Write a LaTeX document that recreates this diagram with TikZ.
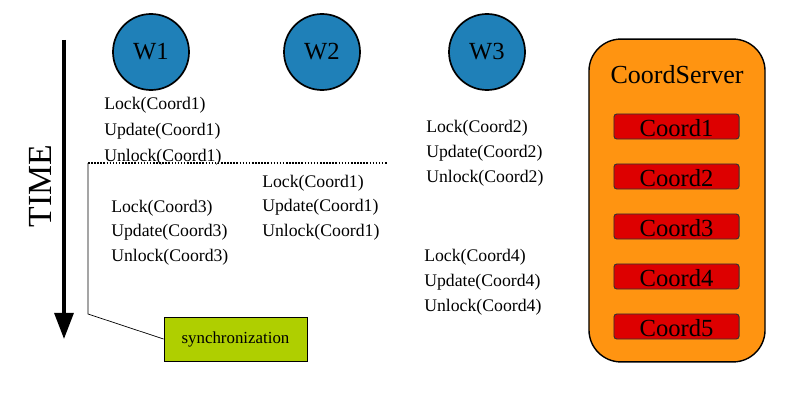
\documentclass[tikz,border=0pt]{standalone}
\usepackage{fontspec}
\setmainfont{Liberation Serif}
\usetikzlibrary{arrows.meta}
\definecolor{wblue}{HTML}{1F80B8}
\definecolor{corange}{HTML}{FF9411}
\definecolor{cred}{HTML}{DD0000}
\definecolor{sgreen}{HTML}{AFCF00}
\tikzset{
  worker/.style={circle, draw=black, line width=1.2pt, fill=wblue, minimum size=1.9cm, inner sep=0pt, font=\fontsize{17.5}{20}\selectfont},
  op/.style={anchor=base west, inner sep=0pt, font=\fontsize{12.6}{15}\selectfont},
  coordbox/.style={draw=black!80, line width=0.7pt, fill=cred, rounded corners=2pt, minimum width=3.125cm, minimum height=0.625cm, inner sep=0pt},
  coordlabel/.style={inner sep=0pt, font=\fontsize{17.5}{20}\selectfont},
  server/.style={draw=black, line width=1pt, fill=corange, rounded corners=0.8cm, minimum width=4.4cm, minimum height=8.07cm, inner sep=0pt},
  syncbox/.style={draw=black, line width=0.6pt, fill=sgreen, minimum width=3.575cm, minimum height=1.1cm, inner sep=0pt, font=\fontsize{12}{14}\selectfont},
}
\begin{document}
\begin{tikzpicture}[x=0.025cm, y=-0.025cm]
\useasboundingbox (0,0) rectangle (800,400);
% time arrow
\coordinate (t0) at (64,40);
\coordinate (t1) at (64,339);
\draw[line width=2.6pt, -{Triangle[length=0.65cm, width=0.47cm]}] (t0) -- (t1);
\node[rotate=90, inner sep=0pt, font=\fontsize{24}{28}\selectfont] (time) at (40,186) {TIME};
% workers
\node[worker] (w1) at (151,52) {W1};
\node[worker] (w2) at (322,52) {W2};
\node[worker] (w3) at (487,52) {W3};
% W1 ops
\node[op] (a1) at (104,110) {Lock(Coord1)};
\node[op] (a2) at (104,136) {Update(Coord1)};
\node[op] (a3) at (104,161) {Unlock(Coord1)};
\node[op] (b1) at (111,212) {Lock(Coord3)};
\node[op] (b2) at (111,236) {Update(Coord3)};
\node[op] (b3) at (111,261) {Unlock(Coord3)};
% W2 ops
\node[op] (c1) at (262,187) {Lock(Coord1)};
\node[op] (c2) at (262,211) {Update(Coord1)};
\node[op] (c3) at (262,236) {Unlock(Coord1)};
% W3 ops
\node[op] (d1) at (426,133) {Lock(Coord2)};
\node[op] (d2) at (426,157) {Update(Coord2)};
\node[op] (d3) at (426,182) {Unlock(Coord2)};
\node[op] (e1) at (424,261) {Lock(Coord4)};
\node[op] (e2) at (424,286) {Update(Coord4)};
\node[op] (e3) at (424,311) {Unlock(Coord4)};
% synchronization
\coordinate (s0) at (88,163);
\coordinate (s1) at (388,163);
\coordinate (s2) at (88,314);
\draw[line width=1.1pt, dash pattern=on 1.1pt off 1.1pt] (s0) -- (s1);
\node[syncbox] (sync) at (235.5,339) {synchronization};
\draw[line width=0.5pt] (s0) -- (s2) -- (sync.west);
% coord server
\node[server] (srv) at (677,200.5) {};
\node[font=\fontsize{18.5}{22}\selectfont, inner sep=0pt] (srvlabel) at (677,75) {CoordServer};
\node[coordbox] (k1) at (676.5,126.5) {};
\node[coordbox] (k2) at (676.5,176.5) {};
\node[coordbox] (k3) at (676.5,226.5) {};
\node[coordbox] (k4) at (676.5,276.5) {};
\node[coordbox] (k5) at (676.5,326.5) {};
\node[coordlabel] at ([yshift=-0.04cm]k1.center) {Coord1};
\node[coordlabel] at ([yshift=-0.04cm]k2.center) {Coord2};
\node[coordlabel] at ([yshift=-0.04cm]k3.center) {Coord3};
\node[coordlabel] at ([yshift=-0.04cm]k4.center) {Coord4};
\node[coordlabel] at ([yshift=-0.04cm]k5.center) {Coord5};
\end{tikzpicture}
\end{document}
